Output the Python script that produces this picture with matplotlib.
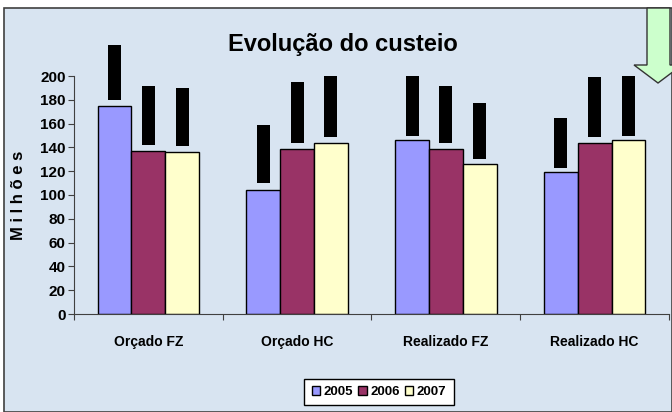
import matplotlib
matplotlib.use("Agg")
import matplotlib.pyplot as plt
from matplotlib.patches import Rectangle, Polygon
import numpy as np

# dados
categorias = ["Orçado FZ", "Orçado HC", "Realizado FZ", "Realizado HC"]
anos = ["2005", "2006", "2007"]
valores = {
    "2005": [175, 104, 146, 119],
    "2006": [137, 139, 139, 144],
    "2007": [136, 144, 126, 146],
}
# caixas pretas (rótulos tapados) acima das barras: base e topo
caixa_base = {
    "2005": [180, 110, 150, 123],
    "2006": [142, 144, 144, 149],
    "2007": [141, 149, 130, 150],
}
caixa_topo = {
    "2005": [226, 159, 200, 165],
    "2006": [192, 195, 192, 199],
    "2007": [190, 200, 177, 200],
}
cores = {"2005": "#9999FF", "2006": "#993366", "2007": "#FFFFCC"}

plt.rcParams["font.family"] = ["Liberation Sans", "DejaVu Sans"]

fig = plt.figure(figsize=(6.72, 4.12), dpi=100, facecolor="white")
W, H = 672, 412

# fundo azul claro com borda
fig.add_artist(Rectangle((4 / W, 0), 1 - 4 / W, 1 - 8 / H, transform=fig.transFigure,
                         facecolor="#D8E4F1", edgecolor="#404040", lw=1.2, zorder=0))

ax = fig.add_axes([74 / W, 1 - 314 / H, (669 - 74) / W, (314 - 76) / H])
ax.patch.set_alpha(0)

x = np.arange(len(categorias))
larg = 0.227
for i, ano in enumerate(anos):
    pos = x + (i - 1) * larg
    ax.bar(pos, valores[ano], width=larg, color=cores[ano], edgecolor="black",
           linewidth=1, label=ano, zorder=2)
    alturas = np.array(caixa_topo[ano]) - np.array(caixa_base[ano])
    ax.bar(pos, alturas, bottom=caixa_base[ano], width=0.088, color="black",
           clip_on=False, zorder=3)

ax.set_xlim(-0.5, 3.5)
ax.set_ylim(0, 200)
ax.set_yticks(range(0, 201, 20))
ax.set_xticks(np.arange(-0.5, 4, 1))
ax.set_xticklabels([])
ax.set_xticks(x, minor=True)
ax.set_xticklabels(categorias, minor=True, fontsize=10, fontweight="bold")
ax.tick_params(axis="x", which="major", direction="out", length=4, color="#404040")
ax.tick_params(axis="x", which="minor", length=0, pad=15)
ax.tick_params(axis="y", direction="out", length=4, pad=2, color="#404040")
for lab in ax.get_yticklabels():
    lab.set_fontsize(11)
    lab.set_fontweight("bold")
for s in ["top", "right"]:
    ax.spines[s].set_visible(False)
for s in ["left", "bottom"]:
    ax.spines[s].set_color("#404040")

ax.set_ylabel("M i l h õ e s", fontsize=12, fontweight="bold", labelpad=10)
fig.text(343 / W, 1 - 45 / H, "Evolução do custeio", fontsize=17, fontweight="bold",
         ha="center", va="center")

# legenda
leg = fig.legend(loc="center", bbox_to_anchor=(379 / W, 1 - 392 / H), ncol=3,
                 prop={"weight": "bold", "size": 9.5},
                 handlelength=0.65, handleheight=0.65, handletextpad=0.25,
                 columnspacing=0.4, borderpad=0.55, fancybox=False)
leg.get_frame().set_edgecolor("black")
leg.get_frame().set_facecolor("white")
leg.get_frame().set_alpha(1)

# seta verde no canto
seta = Polygon([(647 / W, 1 - 8 / H), (670 / W, 1 - 8 / H), (670 / W, 1 - 65 / H),
                (682 / W, 1 - 65 / H), (658 / W, 1 - 83 / H), (634 / W, 1 - 65 / H),
                (647 / W, 1 - 65 / H)], closed=True, transform=fig.transFigure,
               facecolor="#CCFFCC", edgecolor="#333333", lw=1, zorder=5)
fig.add_artist(seta)

fig.savefig("out.png", dpi=100, facecolor=fig.get_facecolor())
